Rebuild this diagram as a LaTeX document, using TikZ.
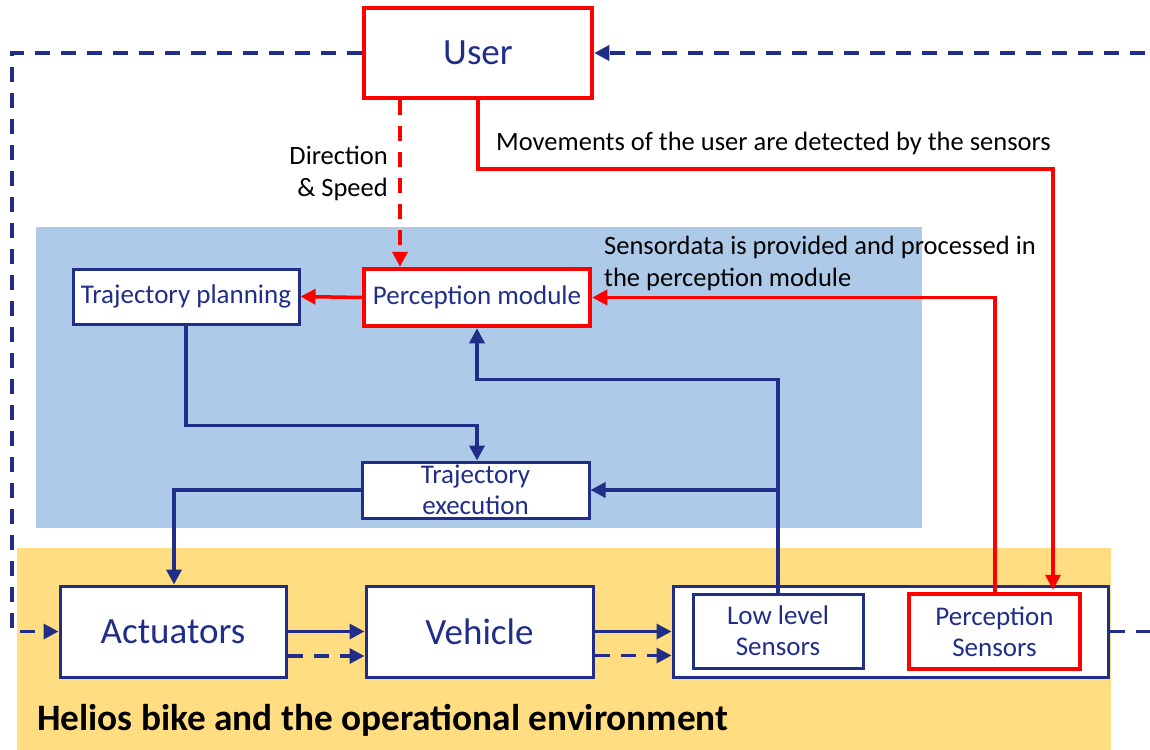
\documentclass[tikz,border=0pt]{standalone}
\usepackage{fontspec}
\setmainfont{Carlito}
\usetikzlibrary{arrows.meta,calc}
\definecolor{navy}{RGB}{32,46,138}
\definecolor{redline}{RGB}{255,0,0}
\definecolor{bluezone}{RGB}{173,203,232}
\definecolor{yellowzone}{RGB}{255,221,128}
\tikzset{
  bigfont/.style={font=\fontsize{37}{40}\selectfont},
  midfont/.style={font=\fontsize{27}{31}\selectfont},
  labelfont/.style={font=\fontsize{26.5}{32}\selectfont},
  navybox/.style={draw=navy, line width=3pt, fill=white, text=navy, inner sep=0pt, align=center},
  redbox/.style={draw=redline, line width=4.5pt, fill=white, text=navy, inner sep=0pt, align=center},
  navyarrow/.style={draw=navy, line width=3.5pt, -{Triangle[length=15pt,width=15pt]}},
  redarrow/.style={draw=redline, line width=3.5pt, -{Triangle[length=15pt,width=15pt]}},
  dashpat/.style={dash pattern=on 15pt off 11pt},
}
\begin{document}
\begin{tikzpicture}[x=1pt,y=-1pt]
\useasboundingbox (0,0) rectangle (1150,749);
\clip (0,0) rectangle (1150,749);

% coloured zones
\fill[bluezone] (36,227) rectangle (922,528);
\fill[yellowzone] (17,548) rectangle (1111,760);

% blocks
\node[redbox, bigfont, minimum width=228pt, minimum height=90pt] (user) at (478,53) {User};
\node[navybox, midfont, minimum width=226pt, minimum height=55pt] (tp) at (186,296.5) {Trajectory planning};
\node[redbox, midfont, minimum width=226pt, minimum height=57pt] (pm) at (477,297.5) {Perception module};
\node[navybox, midfont, minimum width=227pt, minimum height=56pt] (te) at (475.5,490) {Trajectory\\execution};
\node[navybox, bigfont, minimum width=226pt, minimum height=91pt] (act) at (173,631.5) {Actuators};
\node[navybox, bigfont, minimum width=227pt, minimum height=91pt] (veh) at (479.5,631.5) {Vehicle};
\node[navybox, minimum width=435pt, minimum height=91pt] (sens) at (890.5,631.5) {};
\node[navybox, midfont, minimum width=170pt, minimum height=74pt] (ll) at (778,631) {Low level\\Sensors};
\node[redbox, midfont, minimum width=171pt, minimum height=75pt] (ps) at (994.5,631.5) {Perception\\Sensors};

% labels
\node[labelfont, anchor=east, align=right, inner sep=0pt] (lblds) at (388,173) {Direction\\\& Speed};
\node[labelfont, anchor=west, inner sep=0pt] (lblmv) at (496,143) {Movements of the user are detected by the sensors};
\node[labelfont, anchor=west, align=left, inner sep=0pt] (lblsd) at (604,263.5) {Sensordata is provided and processed in\\the perception module};
\node[font=\fontsize{37.3}{40}\selectfont\bfseries, anchor=west, inner sep=0pt] (lblhe) at (37,720.5) {Helios bike and the operational environment};

% feedback loop around the system
\draw[navyarrow, dashpat] (user.west) -- (12,53) |- (act.west);
\draw[navyarrow, dashpat] (sens.east) -- (1163,631.5) |- (user.east);

% user to perception
\draw[redarrow, dashpat] ($(user.south)+(-78,0)$) -- ($(pm.north)+(-77,0)$);
\draw[redarrow] (user.south) |- (1053,169) -- ($(ps.north)+(58.5,-2)$);
\draw[redarrow] ($(ps.north)+(0.5,0)$) |- (pm.east);
\draw[redarrow] (pm.west) -- (tp.east);

% planning and execution
\draw[navyarrow] (tp.south) -- ++(0,100) -| ($(te.north)+(1.5,0)$);
\draw[navyarrow] (ll.north) -- ++(0,-213) -| (pm.south);
\draw[navyarrow] (ll.north |- te.east) -- (te.east);
\draw[navyarrow] (te.west) -| ($(act.north)+(1,0)$);

% vehicle chain
\draw[navyarrow] (act.east) -- (veh.west);
\draw[navyarrow, dashpat] ($(act.east)+(0,24.5)$) -- ($(veh.west)+(0,24.5)$);
\draw[navyarrow] (veh.east) -- (sens.west);
\draw[navyarrow, dashpat] ($(veh.east)+(0,24)$) -- ($(sens.west)+(0,24)$);
\end{tikzpicture}
\end{document}
